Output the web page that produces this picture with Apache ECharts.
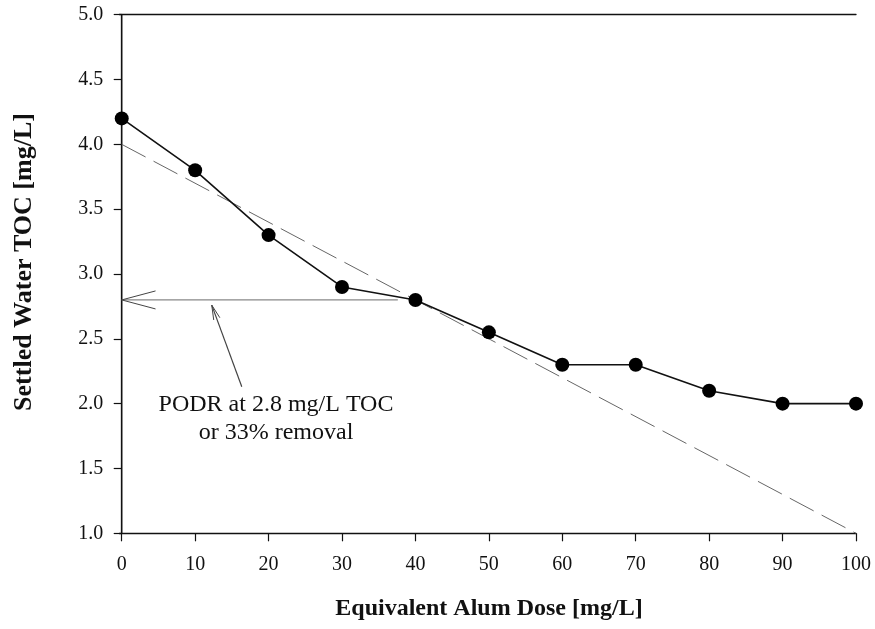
<!DOCTYPE html>
<html>
<head>
<meta charset="utf-8">
<script src="https://cdn.jsdelivr.net/npm/echarts@6/dist/echarts.min.js"></script>
<style>html,body{margin:0;padding:0;background:#fff;}#c{width:875px;height:629px;}</style>
</head>
<body>
<div id="c"></div>
<script>
// ---- data ----
var doses = [0, 10, 20, 30, 40, 50, 60, 70, 80, 90, 100];
var tocValues = [4.2, 3.8, 3.3, 2.9, 2.8, 2.55, 2.3, 2.3, 2.1, 2.0, 2.0];
var trendX = [0, 100];
var trendY = [4.0, 1.0];
var xTicks = [0, 10, 20, 30, 40, 50, 60, 70, 80, 90, 100];
var podrArrow = [[37.6, 2.8, 0, 2.8]];          // [fromX, fromY, toX, toY]
var pointerArrow = [[16.35, 2.13, 12.26, 2.76]]; // [fromX, fromY, toX, toY]
var noteLines = ['PODR at 2.8 mg/L TOC', 'or 33% removal'];
var xTitle = 'Equivalent Alum Dose [mg/L]';
var yTitle = 'Settled Water TOC [mg/L]';

var FONT = '"Liberation Serif", "Times New Roman", serif';

function arrowRenderer(headLen, halfAngle, shaftColor, headColor) {
  return function (params, api) {
    var a = api.coord([api.value(0), api.value(1)]);
    var b = api.coord([api.value(2), api.value(3)]);
    var ang = Math.atan2(a[1] - b[1], a[0] - b[0]);
    var w1 = [b[0] + headLen * Math.cos(ang + halfAngle), b[1] + headLen * Math.sin(ang + halfAngle)];
    var w2 = [b[0] + headLen * Math.cos(ang - halfAngle), b[1] + headLen * Math.sin(ang - halfAngle)];
    return {
      type: 'group',
      children: [
        { type: 'line', shape: { x1: a[0], y1: a[1], x2: b[0], y2: b[1] }, style: { stroke: shaftColor, lineWidth: 1.2 } },
        { type: 'polyline', shape: { points: [w1, b, w2] }, style: { stroke: headColor, lineWidth: 1, fill: null } }
      ]
    };
  };
}

var chart = echarts.init(document.getElementById('c'));
chart.setOption({
  backgroundColor: '#ffffff',
  animation: false,
  grid: { left: 119.3, right: 19, top: 14.7, bottom: 95.7 },
  xAxis: [{
    type: 'value', min: -0.33, max: 100,
    axisLine: { show: true, lineStyle: { color: '#111', width: 1.3 } },
    axisTick: { show: true, length: 8, inside: false, customValues: xTicks, lineStyle: { color: '#111', width: 1.2 } },
    axisLabel: { customValues: xTicks, margin: 21, fontFamily: FONT, fontSize: 20, color: '#111' },
    splitLine: { show: false }
  }, {
    type: 'value', position: 'top', min: -0.33, max: 100,
    axisLine: { show: true, lineStyle: { color: '#111', width: 1.3 } },
    axisTick: { show: false }, axisLabel: { show: false }, splitLine: { show: false }
  }],
  yAxis: [{
    type: 'value', min: 1, max: 5, interval: 0.5,
    axisLine: { show: true, lineStyle: { color: '#888', width: 1.6 } },
    axisTick: { show: true, length: 8, inside: false, lineStyle: { color: '#111', width: 1.2 } },
    axisLabel: { margin: 16, fontFamily: FONT, fontSize: 20, color: '#111', formatter: function (v) { return v.toFixed(1); } },
    splitLine: { show: false }
  }, {
    type: 'value', position: 'right', min: 1, max: 5,
    axisLine: { show: true, lineStyle: { color: '#111', width: 1.3 } },
    axisTick: { show: false }, axisLabel: { show: false }, splitLine: { show: false }
  }],
  graphic: [{
    type: 'text', x: 24, y: 262, rotation: Math.PI / 2,
    style: { text: yTitle, font: 'bold 26px ' + FONT, fill: '#111', align: 'center', verticalAlign: 'middle' }
  }, {
    type: 'text', x: 489, y: 609,
    style: { text: xTitle, font: 'bold 24px ' + FONT, fill: '#111', align: 'center', verticalAlign: 'middle' }
  }, {
    type: 'text', x: 276, y: 419,
    style: { text: noteLines.join('\n'), font: '24px ' + FONT, fill: '#111', align: 'center', verticalAlign: 'middle', lineHeight: 28 }
  }],
  series: [{
    type: 'line',
    data: trendX.map(function (x, i) { return [x, trendY[i]]; }),
    showSymbol: false, symbol: 'none',
    lineStyle: { color: '#666', width: 1, type: [27, 9] },
    silent: true, z: 2
  }, {
    type: 'custom', renderItem: arrowRenderer(35, 0.26, '#888', '#444'),
    data: podrArrow, silent: true, z: 3, clip: false
  }, {
    type: 'custom', renderItem: arrowRenderer(15, 0.22, '#444', '#444'),
    data: pointerArrow, silent: true, z: 3, clip: false
  }, {
    type: 'line',
    data: doses.map(function (x, i) { return [x, tocValues[i]]; }),
    symbol: 'circle', symbolSize: 14, clip: false,
    itemStyle: { color: '#000' },
    lineStyle: { color: '#111', width: 1.6 },
    z: 5
  }]
});
</script>
</body>
</html>
